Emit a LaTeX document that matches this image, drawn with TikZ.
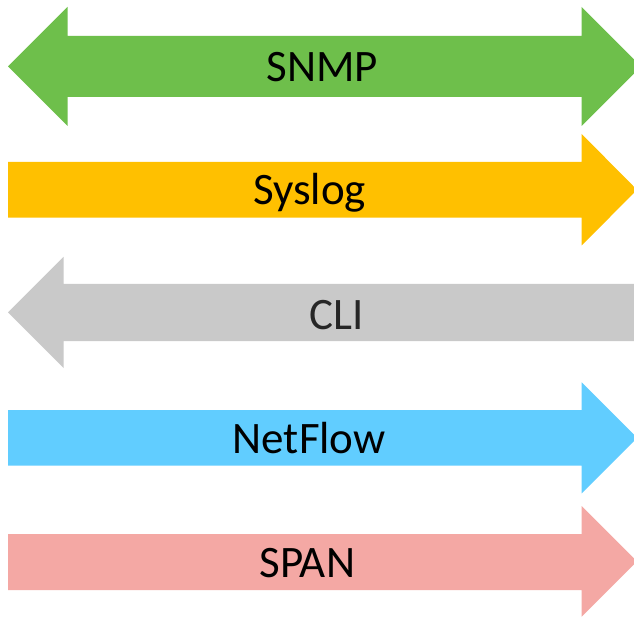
\documentclass[tikz,border=0pt]{standalone}
\usepackage{fontspec}
\setmainfont{Carlito}
\definecolor{cgreen}{HTML}{6EBF4B}
\definecolor{cyellow}{HTML}{FFC000}
\definecolor{cgrey}{HTML}{C9C9C9}
\definecolor{cblue}{HTML}{61CDFF}
\definecolor{cpink}{HTML}{F4A8A4}
\definecolor{ctextgrey}{HTML}{262626}
\tikzset{
  arrowshape/.style={draw=none},
  label text/.style={anchor=base, inner sep=0pt, font=\fontsize{45}{54}\selectfont, text=black}
}
\begin{document}
\begin{tikzpicture}[x=1pt,y=-1pt]
\clip (0,0) rectangle (634,617);
\fill[white] (0,0) rectangle (634,617);
% SNMP (double arrow)
\fill[cgreen, arrowshape] (8,66.5) -- (67.5,7) -- (67.5,36) -- (581.7,36) -- (581.7,7) -- (641,66.5)
  -- (581.7,126) -- (581.7,97) -- (67.5,97) -- (67.5,126) -- cycle;
% Syslog (right arrow)
\fill[cyellow, arrowshape] (8,162) -- (581.7,162) -- (581.7,134) -- (637,189.8) -- (581.7,245.5)
  -- (581.7,217.7) -- (8,217.7) -- cycle;
% CLI (left arrow)
\fill[cgrey, arrowshape] (8,312.5) -- (63.5,257) -- (63.5,284) -- (640,284) -- (640,341)
  -- (63.5,341) -- (63.5,368) -- cycle;
% NetFlow (right arrow)
\fill[cblue, arrowshape] (8,410) -- (581.7,410) -- (581.7,382.3) -- (637.2,437.8) -- (581.7,493.3)
  -- (581.7,465.7) -- (8,465.7) -- cycle;
% SPAN (right arrow)
\fill[cpink, arrowshape] (8,534) -- (581.7,534) -- (581.7,506) -- (637,561.3) -- (581.7,616.7)
  -- (581.7,590) -- (8,590) -- cycle;
% labels
\node[label text] (snmp) at (322.5,82) {SNMP};
\node[label text] (syslog) at (309.7,205) {Syslog};
\node[label text, text=ctextgrey] (cli) at (336.7,329.3) {CLI};
\node[label text] (netflow) at (309.2,453.3) {NetFlow};
\node[label text] (span) at (307.2,577.7) {SPAN};
\end{tikzpicture}
\end{document}
